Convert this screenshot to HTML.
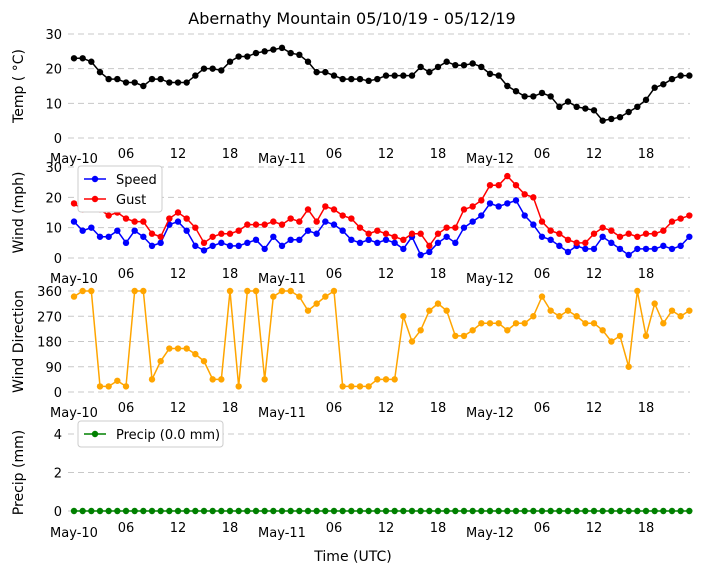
<!DOCTYPE html>
<html><head><meta charset="utf-8"><style>
body{margin:0;background:#fff}
svg{display:block;font-family:"DejaVu Sans","Liberation Sans",sans-serif}
</style></head><body>
<svg id="c" width="704" height="573"></svg>
<script>
const hours=[];for(let i=0;i<72;i++)hours.push(i);
const temp=[23,23,22,19,17,17,16,16,15,17,17,16,16,16,18,20,20,19.5,22,23.5,23.5,24.5,25,25.5,26,24.5,24,22,19,19,18,17,17,17,16.5,17,18,18,18,18,20.5,19,20.5,22,21,21,21.5,20.5,18.5,18,15,13.5,12,12,13,12,9,10.5,9,8.5,8,5,5.5,6,7.5,9,11,14.5,15.5,17,18,18];
const speed=[12,9,10,7,7,9,5,9,7,4,5,11,12,9,4,2.5,4,5,4,4,5,6,3,7,4,6,6,9,8,12,11,9,6,5,6,5,6,5,3,7,1,2,5,7,5,10,12,14,18,17,18,19,14,11,7,6,4,2,4,3,3,7,5,3,1,3,3,3,4,3,4,7];
const gust=[18,16,17,16,14,15,13,12,12,8,7,13,15,13,10,5,7,8,8,9,11,11,11,12,11,13,12,16,12,17,16,14,13,10,8,9,8,7,6,8,8,4,8,10,10,16,17,19,24,24,27,24,21,20,12,9,8,6,5,5,8,10,9,7,8,7,8,8,9,12,13,14];
const dir=[340,360,360,20,20,40,20,360,360,45,110,155,155,155,135,110,45,45,360,20,360,360,45,340,360,360,340,290,315,340,360,20,20,20,20,45,45,45,270,180,220,290,315,290,200,200,220,245,245,245,220,245,245,270,340,290,270,290,270,245,245,220,180,200,90,360,200,315,245,290,270,290];
const precip=hours.map(()=>0);
const xTicks=[0,6,12,18,24,30,36,42,48,54,60,66];
const xLabels=["May-10","06","12","18","May-11","06","12","18","May-12","06","12","18"];
const NS="http://www.w3.org/2000/svg",svg=document.getElementById('c');
function el(t,a,p){const e=document.createElementNS(NS,t);for(const k in a)e.setAttribute(k,a[k]);(p||svg).appendChild(e);return e;}
const X=h=>74+h*52/6;
const t=el('text',{x:352,y:24,'text-anchor':'middle','font-size':16});t.textContent="Abernathy Mountain 05/10/19 - 05/12/19";

const tx=el('text',{x:353,y:561,'text-anchor':'middle','font-size':14});tx.textContent="Time (UTC)";

function panel(name,ymin,ymax,yTop,yBot,ticks,label,series,xlabY,legend){
 const g=el('g',{});
 const Y=v=>yBot-(v-ymin)/(ymax-ymin)*(yBot-yTop);
 ticks.forEach(v=>{el('line',{x1:68,x2:690,y1:Y(v),y2:Y(v),stroke:'#c8c8c8','stroke-dasharray':'6,4'},g);
  const tl=el('text',{x:62,y:Y(v)+5,'text-anchor':'end','font-size':13},g);tl.textContent=v;});
 const yl=el('text',{transform:`translate(23,${(yTop+yBot)/2}) rotate(-90)`,'text-anchor':'middle','font-size':14},g);yl.textContent=label;
 
 xTicks.forEach((h,i)=>{const l=el('text',{x:X(h),y:xlabY+(i%4==0?5:0),'text-anchor':'middle','font-size':13},g);l.textContent=xLabels[i];});
 series.forEach(s=>{
  const sg=el('g',{},g);
  el('polyline',{points:s.d.map((v,i)=>X(hours[i])+','+Y(v)).join(' '),fill:'none',stroke:s.c,'stroke-width':1.5},sg);
  s.d.forEach((v,i)=>{const c=el('circle',{cx:X(hours[i]),cy:Y(v),r:3.2,fill:s.c},sg);
   });
 });
 if(legend){const lg=el('g',{},g);
  el('rect',{x:legend.x,y:legend.y,width:legend.w,height:legend.items.length*20+6,fill:'#fff',stroke:'#ccc',rx:3},lg);
  legend.items.forEach((it,i)=>{const yy=legend.y+13+i*20;
   el('line',{x1:legend.x+6,x2:legend.x+28,y1:yy,y2:yy,stroke:it.c,'stroke-width':1.5},lg);
   el('circle',{cx:legend.x+17,cy:yy,r:3.2,fill:it.c},lg);
   const lt=el('text',{x:legend.x+38,y:yy+5,'font-size':13},lg);lt.textContent=it.t;});}
}
panel('temp',0,30,34,138,[0,10,20,30],'Temp ( °C)',[{n:'temp',d:temp,c:'#000'}],158,null);
panel('wind',0,30,167,258,[0,10,20,30],'Wind (mph)',[{n:'speed',d:speed,c:'#0000ff'},{n:'gust',d:gust,c:'#ff0000'}],278,{x:78,y:166,w:84,items:[{t:'Speed',c:'#0000ff'},{t:'Gust',c:'#ff0000'}]});
panel('direction',0,360,291,392,[0,90,180,270,360],'Wind Direction',[{n:'direction',d:dir,c:'#ffa500'}],412,null);
panel('precip',0,4,434,511,[0,2,4],'Precip (mm)',[{n:'precip',d:precip,c:'#008000'}],532,{x:78,y:421,w:145,items:[{t:'Precip (0.0 mm)',c:'#008000'}]});
</script>
</body></html>
